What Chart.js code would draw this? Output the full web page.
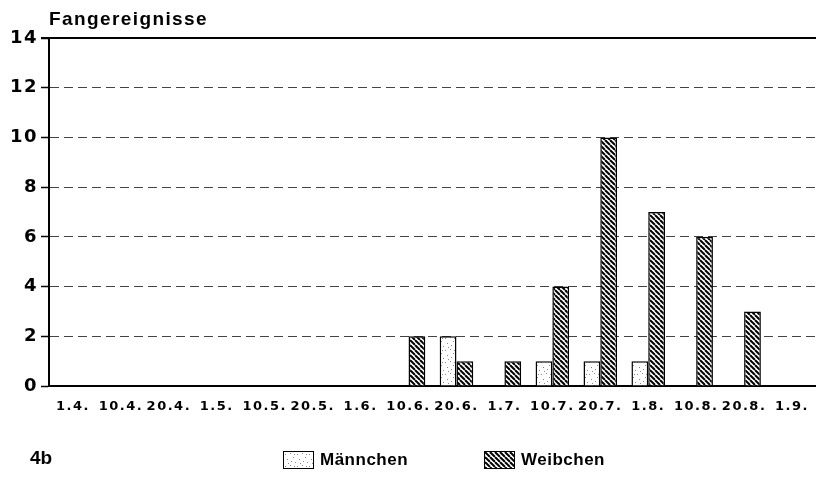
<!DOCTYPE html>
<html>
<head>
<meta charset="utf-8">
<script src="https://cdn.jsdelivr.net/npm/chart.js@4"></script>
<style>
  html, body { margin:0; padding:0; background:#fff; }
  #wrap { position:relative; width:816px; height:487px; }
  #c { position:absolute; left:0; top:0; }
  .txt { position:absolute; font-family:"Liberation Sans", Arial, sans-serif; font-weight:bold; color:#000; white-space:nowrap; }
  #title { left:49px; top:8px; font-size:19px; letter-spacing:1.4px; }
  #fig { left:30px; top:447px; font-size:19px; font-family:"Liberation Sans Narrow","Liberation Sans",sans-serif; }
  .leg { position:absolute; top:450px; display:flex; align-items:center; }
  .leg canvas { border:1.5px solid #000; box-sizing:border-box; }
  .leg span { font-family:"Liberation Sans", Arial, sans-serif; font-weight:bold; font-size:17px; margin-left:6px; letter-spacing:0.5px; }
</style>
</head>
<body>
<div id="wrap">
  <canvas id="c" width="816" height="487"></canvas>
  <div id="title" class="txt">Fangereignisse</div>
  <div id="fig" class="txt">4b</div>
  <div class="leg" style="left:283px;"><canvas id="lm" width="29" height="16"></canvas><span id="lmt"></span></div>
  <div class="leg" style="left:484px;"><canvas id="lw" width="29" height="16"></canvas><span id="lwt"></span></div>
</div>
<script>
// ---- data ----
const categories = ["1.4.","10.4.","20.4.","1.5.","10.5.","20.5.","1.6.","10.6.","20.6.","1.7.","10.7.","20.7.","1.8.","10.8.","20.8.","1.9."];
const seriesNames = ["Männchen","Weibchen"];
const maennchen = [0,0,0,0,0,0,0,0,2,0,1,1,1,0,0,0];
const weibchen  = [0,0,0,0,0,0,0,2,1,1,4,10,7,6,3,0];
const yTicks = [0,2,4,6,8,10,12,14];

// ---- patterns ----
function stipple(ctx){
  const t = document.createElement('canvas'); t.width = 12; t.height = 12;
  const g = t.getContext('2d');
  g.fillStyle = '#fff'; g.fillRect(0,0,12,12);
  g.fillStyle = '#888';
  const dots = [[1,2],[6,1],[9,5],[3,7],[7,9],[11,10],[4,11],[10,2]];
  dots.forEach(d => g.fillRect(d[0], d[1], 1, 1));
  return ctx.createPattern(t, 'repeat');
}
function hatch(ctx){
  const s = 5;
  const t = document.createElement('canvas'); t.width = s; t.height = s;
  const g = t.getContext('2d');
  g.fillStyle = '#fff'; g.fillRect(0,0,s,s);
  g.strokeStyle = '#000'; g.lineWidth = 2;
  for (const k of [-s, 0, s]) { g.beginPath(); g.moveTo(k,0); g.lineTo(k+s,s); g.stroke(); }
  return ctx.createPattern(t, 'repeat');
}

const ctx = document.getElementById('c').getContext('2d');
const pM = stipple(ctx), pW = hatch(ctx);

// legend swatches
[['lm', stipple], ['lw', hatch]].forEach(([id, f]) => {
  const cv = document.getElementById(id), g = cv.getContext('2d');
  g.fillStyle = f(g); g.fillRect(0,0,cv.width,cv.height);
});
document.getElementById('lmt').textContent = seriesNames[0];
document.getElementById('lwt').textContent = seriesNames[1];

const spacing = {
  id: 'spacing',
  beforeDraw(chart){ chart.ctx.letterSpacing = '1.5px'; },
  beforeLayout(chart){ chart.ctx.letterSpacing = '1.5px'; }
};
const topLine = {
  id: 'topLine',
  afterDraw(chart){
    const y = chart.scales.y.getPixelForValue(yTicks[yTicks.length-1]);
    const c = chart.ctx; c.save();
    c.strokeStyle = '#000'; c.lineWidth = 2;
    c.beginPath(); c.moveTo(chart.chartArea.left - 8, y); c.lineTo(chart.chartArea.right, y); c.stroke();
    c.restore();
  }
};

new Chart(ctx, {
  type: 'bar',
  data: {
    labels: categories,
    datasets: [
      { label: seriesNames[0], data: maennchen, backgroundColor: pM, borderColor: '#000', borderWidth: 1.5, categoryPercentage: 0.7, barPercentage: 1.0 },
      { label: seriesNames[1], data: weibchen,  backgroundColor: pW, borderColor: '#000', borderWidth: 1.5, categoryPercentage: 0.7, barPercentage: 1.0 }
    ]
  },
  options: {
    responsive: false,
    animation: false,
    layout: { padding: { top: 38, left: 0, right: 0, bottom: 0 } },
    plugins: { legend: { display: false }, tooltip: { enabled: false }, title: { display: false } },
    scales: {
      x: {
        afterFit(s){ s.height = 101; s.paddingLeft = 0; s.paddingRight = 0; },
        grid: { display: false, drawTicks: false },
        border: { display: true, color: '#000', width: 2 },
        ticks: { color: '#000', padding: 13, maxRotation: 0, autoSkip: false,
                 font: { family: 'DejaVu Sans', weight: 'bold', size: 13 } }
      },
      y: {
        min: 0, max: 14,
        afterFit(s){ s.width = 49; s.paddingTop = 0; s.paddingBottom = 0; },
        afterBuildTicks(s){ s.ticks = yTicks.map(v => ({ value: v })); },
        grid: { color: '#444', lineWidth: 1, tickLength: 8, tickColor: '#000', tickWidth: 1.5, tickBorderDash: [] },
        border: { display: true, color: '#000', width: 2, dash: [9, 5] },
        ticks: { color: '#000', padding: 3,
                 font: { family: 'DejaVu Sans', weight: 'bold', size: 18 } }
      }
    }
  },
  plugins: [spacing, topLine]
});
</script>
</body>
</html>
